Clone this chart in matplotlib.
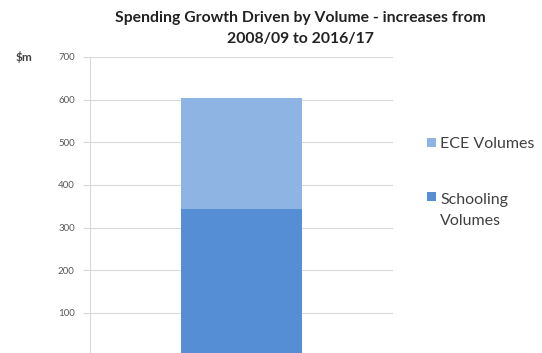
import matplotlib
matplotlib.use("Agg")
import matplotlib.pyplot as plt

# data ($m)
categories = [""]
schooling_volumes = [343]
ece_volumes = [262]
series_labels = ["Schooling\nVolumes", "ECE Volumes"]
y_ticks = [100, 200, 300, 400, 500, 600, 700]

plt.rcParams['font.family'] = ['Lato', 'DejaVu Sans']

fig = plt.figure(figsize=(5.42, 3.53), dpi=100)
ax = fig.add_axes([0.166, -0.0074, 0.559, 0.846])

x = list(range(len(categories)))
b1 = ax.bar(x, schooling_volumes, width=0.4, color="#558ED5", zorder=3)
b2 = ax.bar(x, ece_volumes, width=0.4, bottom=schooling_volumes, color="#8EB4E3", zorder=3)

ax.set_xlim(-0.5, 0.5)
ax.set_ylim(0, 700)
ax.set_xticks([])
ax.set_yticks(y_ticks)
ax.set_yticklabels([str(t) for t in y_ticks])
ax.tick_params(axis="y", length=5, width=0.8, color="#d9d9d9",
               labelsize=7, labelcolor="#595959", pad=6)
ax.grid(axis="y", color="#d9d9d9", linewidth=0.8, zorder=0)

for side in ["top", "right", "bottom"]:
    ax.spines[side].set_visible(False)
ax.spines["left"].set_color("#d9d9d9")
ax.spines["left"].set_linewidth(0.8)

fig.text(0.028, 0.838, "$m", fontsize=8.5, fontweight="bold", color="#404040",
         va="center", ha="left")

fig.suptitle("Spending Growth Driven by Volume - increases from\n2008/09 to 2016/17",
             x=0.555, y=0.968, fontsize=11.3, fontweight="bold", color="#222222",
             linespacing=1.6)

leg = fig.legend([b2, b1], [series_labels[1], series_labels[0]],
                 loc="upper left", bbox_to_anchor=(0.761, 0.652),
                 frameon=False, fontsize=11.5, handlelength=0.55, handleheight=0.55,
                 handletextpad=0.3, labelspacing=2.6)
for t in leg.get_texts():
    t.set_color("#404040")
    t.set_linespacing(1.68)
# line the schooling marker up with the first line of its label
h = leg.legend_handles[1]
h.set_y(h.get_y() + 10)

fig.savefig("out.png", dpi=100)
